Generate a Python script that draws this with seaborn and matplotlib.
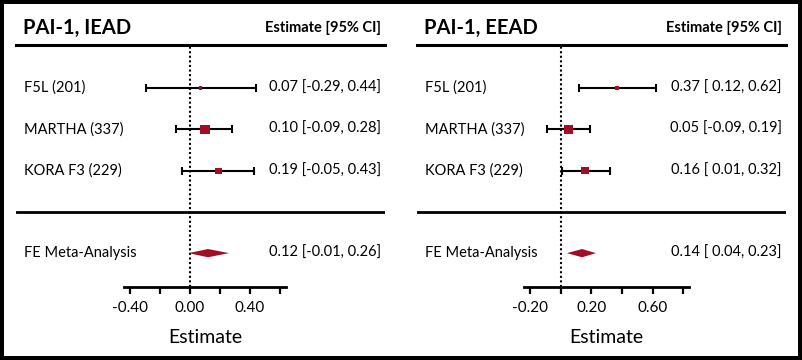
import numpy as np
import pandas as pd
import matplotlib
matplotlib.use("Agg")
import matplotlib.pyplot as plt
import matplotlib.transforms as mtransforms
import seaborn as sns

# data
studies = ["F5L (201)", "MARTHA (337)", "KORA F3 (229)"]
meta_label = "FE Meta-Analysis"

# PAI-1, IEAD
iead_est = [0.07, 0.10, 0.19]
iead_lo = [-0.29, -0.09, -0.05]
iead_hi = [0.44, 0.28, 0.43]
iead_meta = [0.12, -0.01, 0.26]   # est, lo, hi

# PAI-1, EEAD
eead_est = [0.37, 0.05, 0.16]
eead_lo = [0.12, -0.09, 0.01]
eead_hi = [0.62, 0.19, 0.32]
eead_meta = [0.14, 0.04, 0.23]

iead_ticks = [-0.4, -0.2, 0.0, 0.2, 0.4, 0.6]
iead_labeled = [-0.4, 0.0, 0.4]
eead_ticks = [-0.2, 0.0, 0.2, 0.4, 0.6, 0.8]
eead_labeled = [-0.2, 0.2, 0.6]

RED = "#a00d25"

sns.set_theme(style="white")
plt.rcParams["font.family"] = ["Lato", "DejaVu Sans"]
plt.rcParams["text.color"] = "black"
plt.rcParams["axes.labelcolor"] = "black"
plt.rcParams["xtick.color"] = "black"

fig = plt.figure(figsize=(8.02, 3.6), dpi=100)
fig.patch.set_edgecolor("black")
fig.patch.set_linewidth(4.5)


def fmt_ci(e, lo, hi):
    return f"{e:.2f} [{lo:5.2f}, {hi:.2f}]"


def forest(ax, title, est, lo, hi, meta, ticks, labeled, xlim, bounds):
    df = pd.DataFrame({"study": studies, "est": est, "lo": lo, "hi": hi})
    df["row"] = [1, 2, 3]
    # inverse-variance weights -> square side proportional to weight
    df["w"] = 1 / ((df["hi"] - df["lo"]) / 3.92) ** 2
    df["w2"] = (df["w"] / df["w"].max()) ** 2

    ax.errorbar(df["est"], df["row"], xerr=[df["est"] - df["lo"], df["hi"] - df["est"]],
                fmt="none", ecolor="black", elinewidth=1.5, capsize=2.6, capthick=1.5, zorder=2)
    sns.scatterplot(data=df, x="est", y="row", size="w2", size_norm=(0, 1), sizes=(4, 46),
                    marker="s", color=RED, linewidth=0, legend=False, ax=ax, zorder=3)

    m_est, m_lo, m_hi = meta
    h = 0.1
    ax.fill([m_lo, m_est, m_hi, m_est], [5, 5 - h, 5, 5 + h], color=RED, lw=0, zorder=3)

    ax.axhline(4, color="black", lw=2)
    ax.axvline(0, color="black", lw=1.5, ls=(0, (1, 1.2)), zorder=1)

    ax.set_xlim(*xlim)
    ax.set_ylim(5.82, -0.04)
    ax.set_yticks([])
    ax.set_xticks(labeled)
    ax.set_xticklabels([f"{t:.2f}" for t in labeled], fontsize=11)
    ax.set_xticks([t for t in ticks if t not in labeled], minor=True)
    ax.tick_params(which="both", axis="x", bottom=True, direction="out",
                   length=5, width=1.6, color="black", labelcolor="black", pad=5)
    ax.set_ylabel("")

    for s in ["left", "right"]:
        ax.spines[s].set_visible(False)
    ax.spines["top"].set_linewidth(2.2)
    ax.spines["bottom"].set_linewidth(2)
    ax.spines["bottom"].set_bounds(*bounds)
    for s in ax.spines.values():
        s.set_color("black")

    ax.set_xlabel("Estimate", fontsize=14, color="black")
    cx = ax.transAxes.inverted().transform(ax.transData.transform((np.mean(bounds), 0)))[0]
    ax.xaxis.set_label_coords(cx, -0.172)

    tr = mtransforms.blended_transform_factory(ax.transAxes, ax.transData)
    ax.text(0.02, -0.45, title, transform=tr, fontsize=14.5, fontweight="bold", va="center")
    ax.text(0.989, -0.45, "Estimate [95% CI]", transform=tr, fontsize=10.5,
            fontweight="bold", va="center", ha="right")
    for r, name, e, l, u in zip(df["row"], studies, est, lo, hi):
        ax.text(0.022, r, name, transform=tr, fontsize=10.5, va="center")
        ax.text(0.989, r, fmt_ci(e, l, u), transform=tr, fontsize=10.5, va="center", ha="right")
    ax.text(0.022, 5, meta_label, transform=tr, fontsize=10.5, va="center")
    ax.text(0.989, 5, fmt_ci(m_est, m_lo, m_hi), transform=tr, fontsize=10.5,
            va="center", ha="right")


ax1 = fig.add_axes([16 / 802, 73 / 360, 369 / 802, 242 / 360])
ax2 = fig.add_axes([417 / 802, 73 / 360, 369 / 802, 242 / 360])
ax1.patch.set_alpha(0)
ax2.patch.set_alpha(0)

forest(ax1, "PAI-1, IEAD", iead_est, iead_lo, iead_hi, iead_meta,
       iead_ticks, iead_labeled, (-1.16, 1.30), (-0.44, 0.64))
forest(ax2, "PAI-1, EEAD", eead_est, eead_lo, eead_hi, eead_meta,
       eead_ticks, eead_labeled, (-0.939, 1.472), (-0.24, 0.84))

fig.savefig("out.png", dpi=100, edgecolor=fig.get_edgecolor())
